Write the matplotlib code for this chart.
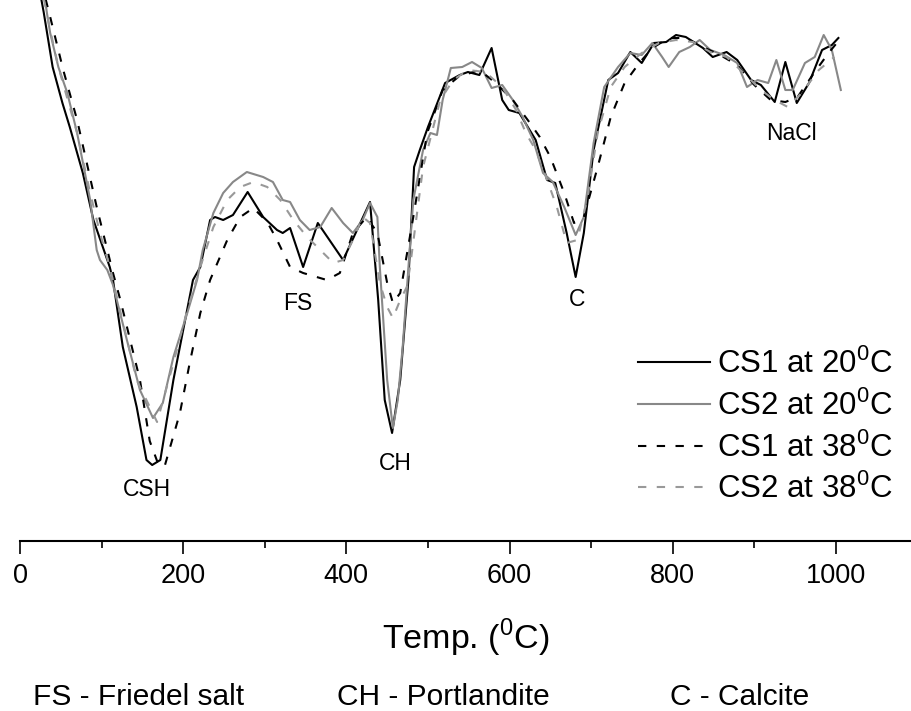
import matplotlib
matplotlib.use('Agg')
import matplotlib.pyplot as plt
from matplotlib.ticker import MultipleLocator

plt.rcParams['font.family'] = ['Liberation Sans', 'DejaVu Sans']
plt.rcParams['mathtext.fontset'] = 'custom'
plt.rcParams['mathtext.rm'] = 'Liberation Sans'

# DTG curves, temperature (C) and signal (arbitrary units)
t_cs1_20 = [24, 29, 40, 52, 61, 77, 90, 110, 114, 126, 143, 155, 162, 172, 188, 212, 221, 233, 239, 249,
            261, 279, 298, 315, 322, 331, 347, 365, 396, 429, 439, 447, 456, 466, 476, 483, 490, 500, 521,
            539, 549, 563, 578, 591, 599, 612, 632, 646, 656, 670, 681, 691, 703, 721, 733, 748, 762, 777,
            792, 804, 816, 837, 849, 866, 879, 896, 908, 925, 938, 952, 967, 983, 995, 1003]
y_cs1_20 = [551, 529, 474, 438, 414, 368, 321, 274, 261, 194, 134, 81, 76, 81, 161, 261, 274, 321, 324, 321,
            326, 349, 324, 311, 308, 313, 274, 318, 281, 339, 241, 141, 108, 161, 261, 374, 391, 414, 458,
            466, 469, 466, 493, 441, 431, 428, 401, 361, 358, 308, 264, 308, 391, 461, 468, 489, 478, 498,
            499, 506, 504, 493, 484, 489, 481, 461, 456, 439, 479, 438, 458, 491, 496, 503]

t_cs2_20 = [29, 33, 37, 47, 58, 70, 86, 94, 98, 107, 114, 131, 147, 163, 175, 188, 205, 217, 224, 237,
            249, 261, 278, 298, 310, 322, 331, 343, 355, 368, 382, 396, 408, 420, 429, 438, 441, 450, 457,
            463, 469, 482, 494, 503, 511, 518, 528, 542, 554, 566, 578, 591, 604, 616, 629, 641, 653, 667,
            681, 691, 703, 716, 733, 748, 762, 775, 787, 795, 808, 821, 833, 846, 863, 879, 891, 904, 917,
            927, 938, 947, 962, 974, 985, 995, 1006]
y_cs2_20 = [551, 528, 508, 474, 448, 408, 341, 291, 281, 271, 256, 201, 151, 123, 138, 184, 228, 261, 291, 328,
            348, 359, 369, 364, 359, 341, 339, 321, 311, 314, 333, 318, 308, 321, 338, 324, 274, 161, 113,
            141, 194, 341, 391, 408, 406, 441, 473, 474, 479, 473, 453, 456, 441, 424, 401, 368, 359, 334,
            306, 324, 398, 454, 474, 488, 486, 498, 484, 474, 489, 494, 501, 491, 486, 478, 454, 461, 458,
            481, 451, 451, 478, 484, 506, 491, 451]

t_cs1_38 = [27, 37, 53, 70, 94, 114, 123, 147, 159, 168, 177, 196, 208, 221, 233, 254, 270, 286, 303, 315,
            331, 347, 376, 392, 408, 425, 438, 450, 457, 466, 482, 499, 518, 537, 563, 583, 604, 625, 637,
            650, 667, 679, 691, 708, 724, 741, 759, 775, 795, 816, 837, 858, 879, 900, 920, 938, 953, 974,
            991, 1004]
y_cs1_38 = [556, 524, 471, 421, 334, 268, 241, 161, 100, 80, 74, 128, 178, 228, 261, 301, 324, 333, 319, 301,
            274, 268, 261, 268, 308, 324, 308, 258, 238, 248, 324, 408, 451, 464, 471, 458, 441, 418, 404,
            384, 348, 318, 324, 374, 424, 458, 478, 493, 503, 503, 494, 486, 476, 456, 441, 439, 444, 469,
            488, 501]

t_cs2_38 = [27, 37, 47, 70, 86, 98, 110, 143, 168, 188, 205, 221, 237, 254, 270, 286, 303, 319, 335, 352,
            368, 384, 396, 408, 420, 429, 441, 450, 457, 466, 474, 478, 494, 515, 531, 549, 570, 591, 608,
            620, 632, 646, 658, 670, 683, 695, 708, 724, 741, 762, 783, 804, 825, 846, 866, 887, 908, 925,
            941, 958, 979, 998]
y_cs2_38 = [551, 511, 474, 408, 348, 308, 274, 161, 119, 178, 231, 274, 314, 341, 354, 359, 354, 341, 321, 304,
            291, 278, 281, 301, 324, 318, 258, 234, 223, 241, 254, 274, 374, 441, 461, 471, 469, 454, 431,
            408, 391, 361, 334, 298, 301, 341, 408, 454, 474, 488, 498, 501, 499, 489, 484, 468, 451, 441,
            434, 448, 471, 484]

labels = ['CS1 at 20$^\\mathregular{0}$C', 'CS2 at 20$^\\mathregular{0}$C',
          'CS1 at 38$^\\mathregular{0}$C', 'CS2 at 38$^\\mathregular{0}$C']

peak_names = ['CSH', 'FS', 'CH', 'C', 'NaCl']
peak_t = [156, 340, 460, 683, 945]
peak_y = [51, 237, 78, 241, 408]

notes = ['FS - Friedel salt', 'CH - Portlandite', 'C - Calcite']

fig = plt.figure(figsize=(9.11, 7.11), dpi=100)
ax = fig.add_axes([20 / 911, 170 / 711, 1 - 20 / 911, 541 / 711])

lw = 1.5
dash = (4, 5)
ax.plot(t_cs1_20, y_cs1_20, color='black', lw=lw, label=labels[0])
ax.plot(t_cs2_20, y_cs2_20, color='#888888', lw=lw, label=labels[1])
ax.plot(t_cs1_38, y_cs1_38, color='black', lw=lw, dashes=dash, label=labels[2])
ax.plot(t_cs2_38, y_cs2_38, color='#999999', lw=lw, dashes=dash, label=labels[3])

for name, tx, ty in zip(peak_names, peak_t, peak_y):
    ax.text(tx, ty, name, fontsize=16.5, ha='center', va='center')

ax.set_xlim(0, 1092)
ax.set_ylim(0, 541)
for s in ['top', 'left', 'right']:
    ax.spines[s].set_visible(False)
ax.spines['bottom'].set_linewidth(1.5)
ax.set_yticks([])
ax.xaxis.set_major_locator(MultipleLocator(200))
ax.xaxis.set_minor_locator(MultipleLocator(100))
ax.tick_params(axis='x', which='major', direction='out', length=9, width=1.2, labelsize=19.5, pad=7)
ax.tick_params(axis='x', which='minor', direction='out', length=5, width=1.2)
ax.set_xlabel('Temp. ($^\\mathregular{0}$C)', fontsize=24.5, labelpad=20)

ax.legend(loc='upper left', bbox_to_anchor=(638 / 911, 1 - 349 / 711), bbox_transform=fig.transFigure,
          frameon=False, fontsize=22.5, handlelength=2.3, handletextpad=0.22, labelspacing=0.33,
          borderpad=0, borderaxespad=0)

fig.text(33 / 911, 14 / 711, notes[0], fontsize=21.5, ha='left', va='center')
fig.text(337 / 911, 14 / 711, notes[1], fontsize=21.5, ha='left', va='center')
fig.text(670 / 911, 14 / 711, notes[2], fontsize=21.5, ha='left', va='center')

fig.savefig('out.png', dpi=100)
